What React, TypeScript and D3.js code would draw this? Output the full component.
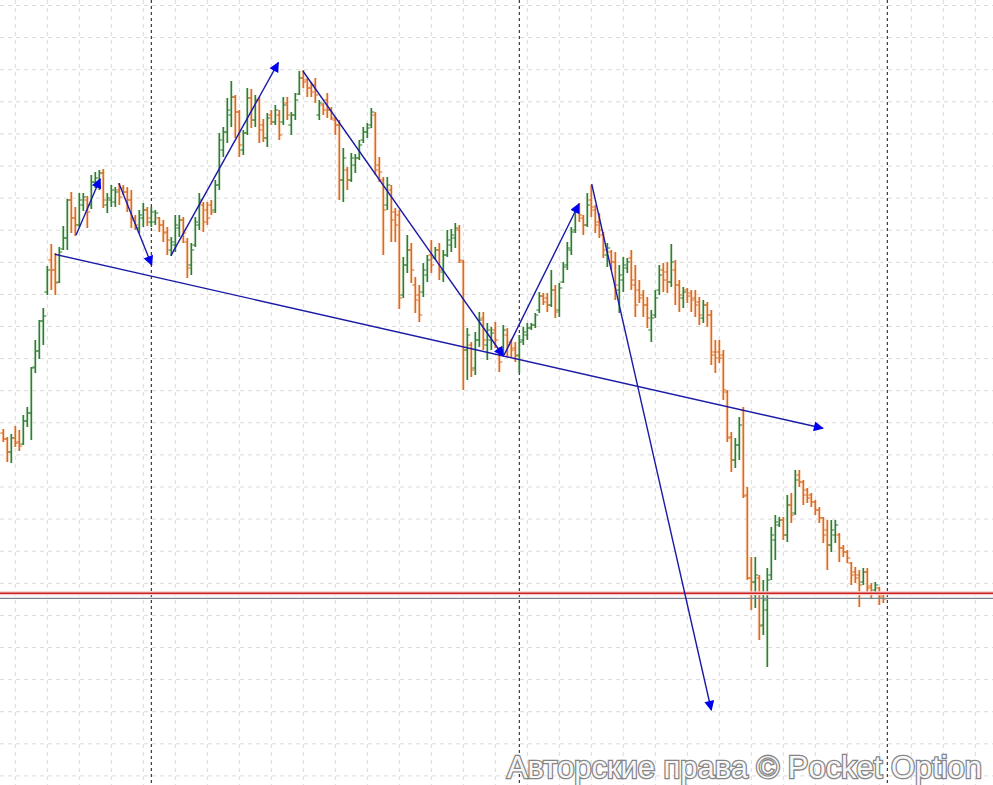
import React from "react";
import * as d3 from "d3";

// OHLC price bars (price points), one entry per bar, oldest first
const barOpen = [
  567,561,548,562,558,556,579,587,633,649,679,708,740,730,718,751,762,800,782,775,
  795,800,795,818,818,827,795,800,798,810,812,808,800,782,772,782,790,778,778,782,
  775,768,750,755,772,780,758,735,755,775,795,790,795,790,815,850,868,885,903,888,
  850,867,902,880,900,875,862,885,878,885,878,897,875,885,906,922,920,912,915,885,
  895,900,890,880,875,820,830,820,835,842,860,868,875,885,835,820,795,810,788,785,
  705,735,750,715,705,708,725,745,742,750,728,745,755,762,770,738,650,655,632,660,
  682,655,660,670,650,650,665,658,652,645,660,665,672,675,690,704,702,695,710,690,
  718,735,750,770,790,782,775,800,790,778,765,745,748,738,710,720,732,742,715,710,
  705,695,670,685,710,730,728,718,730,715,702,710,707,702,698,682,695,685,648,648,
  645,608,563,540,555,590,505,422,418,422,375,390,425,460,475,480,465,495,487,525,
  518,510,505,498,490,482,470,455,465,465,452,448,437,428,425,418,428,414,410,412,
  405,
];
const barHigh = [
  571,563,566,574,570,585,593,633,660,680,692,734,756,747,753,774,801,808,793,807,
  807,804,825,828,830,831,807,815,813,817,815,813,810,785,790,797,793,793,790,783,
  780,773,763,785,785,783,762,757,783,807,798,798,800,820,867,873,902,919,905,890,
  870,912,911,905,903,881,887,890,895,890,903,903,888,907,929,930,922,918,922,900,
  897,907,893,883,880,852,833,847,846,860,873,877,892,888,843,823,823,815,792,790,
  743,765,757,723,715,737,745,760,753,757,750,770,771,777,775,740,672,658,668,688,
  688,677,673,678,653,675,672,661,658,665,673,677,677,687,708,707,707,730,715,717,
  738,758,773,793,797,785,807,815,795,787,768,757,750,748,735,743,742,750,735,720,
  710,703,690,710,735,737,738,756,740,720,713,712,710,710,703,700,698,690,660,660,
  650,610,568,562,583,593,513,443,443,425,420,432,473,485,483,483,505,507,530,530,
  520,512,507,500,493,483,480,480,480,467,455,450,438,433,430,432,432,417,418,413,
  408,
];
const barLow = [
  558,538,537,553,549,555,573,560,627,641,655,705,710,705,717,750,750,767,764,773,
  789,772,791,812,810,792,787,793,793,795,805,788,772,770,767,773,774,773,775,768,
  758,745,744,748,763,757,722,725,753,770,768,775,785,787,810,843,857,873,862,843,
  845,865,872,873,857,858,853,875,875,860,875,880,865,880,905,912,903,903,897,880,
  885,882,880,865,800,798,810,818,827,840,857,862,872,825,818,745,790,758,758,691,
  702,727,717,687,678,703,718,727,740,720,718,743,748,752,737,610,620,623,625,653,
  650,640,650,652,628,645,643,643,638,627,655,660,670,672,687,695,688,693,682,683,
  717,730,745,767,778,765,773,783,767,762,742,733,730,700,687,708,727,710,683,697,
  683,672,658,682,705,708,707,713,695,688,692,697,688,683,675,677,673,635,627,637,
  600,558,528,532,540,502,420,390,392,360,365,333,420,440,473,460,458,477,485,513,
  495,497,493,485,477,457,430,448,457,438,443,437,415,417,393,415,407,402,408,395,
  397,
];
const barClose = [
  561,548,562,557,554,579,587,632,649,679,684,730,730,717,748,762,800,782,775,800,
  803,788,818,822,827,800,802,810,808,803,808,800,780,775,785,790,782,788,787,775,
  767,760,758,775,780,767,732,750,778,800,778,782,788,815,860,868,890,903,888,855,
  867,902,880,900,870,862,882,878,890,865,895,885,885,900,922,918,912,908,905,897,
  890,890,882,875,820,842,820,842,842,855,868,872,888,830,828,790,815,780,775,702,
  735,750,730,700,685,730,740,735,750,730,745,760,765,772,740,650,665,630,660,680,
  660,670,667,660,638,670,655,650,644,658,668,672,675,685,704,698,695,710,688,712,
  733,752,768,788,785,775,795,793,775,770,750,752,738,715,725,735,738,720,695,702,
  695,682,682,702,725,720,718,738,715,705,708,704,700,695,685,695,685,645,642,642,
  610,562,540,555,575,504,422,418,425,374,400,420,465,478,480,465,495,485,520,518,
  505,502,498,490,482,465,455,470,475,452,448,442,425,422,415,428,412,407,415,403,
  401,
];

// Session separators (bar index) and reference price levels
const sessionBreaks = [37, 129, 221];
const bidLevel = 406.7;
const askLevel = 401.7;

// Hand-drawn trend annotations: [startBar, startPrice, endBar, endPrice]
const trendArrows: [number, number, number, number][] = [
  [12.9, 745.7, 204.9, 571.7],
  [18.2, 765, 24.2, 821],
  [28.9, 816.7, 37.1, 735],
  [41.9, 744.3, 68.75, 937.3],
  [74.9, 929, 125.0, 644],
  [125.2, 645, 143.9, 796],
  [147.1, 816, 177.0, 290],
];

const watermark = "Авторские права © Pocket Option";

const W = 993;
const H = 785;
const UP = "#2f7f33";
const DOWN = "#e0691d";

export default function App() {
  const x = d3.scaleLinear().domain([0, 220]).range([3.3, 883.3]);
  const y = d3.scaleLinear().domain([215, 1000]).range([H, 0]);

  // grid: every 8 bars vertically, every 32.1 price points horizontally
  const vGrid = d3.range(3, 250, 8).filter((b) => x(b) < W);
  const hGrid = d3.range(0, 25).map((k) => 994.5 - 32.1 * k);

  const bars = barOpen.map((o, i) => ({
    i,
    o,
    h: barHigh[i],
    l: barLow[i],
    c: barClose[i],
  }));

  return (
    <svg
      width={W}
      height={H}
      style={{ position: "absolute", left: 0, top: 0, background: "#fff" }}
    >
      <defs>
        <marker
          id="arrowHead"
          viewBox="0 0 10 10"
          refX="9"
          refY="5"
          markerWidth="13"
          markerHeight="10"
          markerUnits="userSpaceOnUse"
          orient="auto"
        >
          <path d="M0,0 L10,5 L0,10 z" fill="#0000f0" />
        </marker>
      </defs>
      <rect width={W} height={H} fill="#fff" />

      <g stroke="#dadada" strokeWidth={1} strokeDasharray="4,4">
        {vGrid.map((b) => (
          <line key={"v" + b} x1={x(b)} x2={x(b)} y1={0} y2={H} />
        ))}
        {hGrid.map((p, k) => (
          <line key={"h" + k} x1={0} x2={W} y1={y(p)} y2={y(p)} />
        ))}
      </g>

      <g stroke="#111" strokeWidth={1} strokeDasharray="3,3">
        {sessionBreaks.map((b) => (
          <line key={b} x1={x(b)} x2={x(b)} y1={0} y2={H} />
        ))}
      </g>

      {/* soft halo behind the bars */}
      <g strokeWidth={3.6} opacity={0.5}>
        {bars.map((d) => (
          <line
            key={"g" + d.i}
            x1={x(d.i)}
            x2={x(d.i)}
            y1={y(d.h)}
            y2={y(d.l)}
            stroke={d.c >= d.o ? "#d9efd9" : "#fbdcc0"}
          />
        ))}
      </g>

      <g>
        {bars.map((d) => {
          const col = d.c >= d.o ? UP : DOWN;
          const cx = x(d.i);
          return (
            <g key={d.i} stroke={col}>
              <line x1={cx} x2={cx} y1={y(d.h)} y2={y(d.l)} strokeWidth={1.6} />
              <line x1={cx - 3} x2={cx} y1={y(d.o)} y2={y(d.o)} strokeWidth={1} />
              <line x1={cx} x2={cx + 3} y1={y(d.c)} y2={y(d.c)} strokeWidth={1} />
            </g>
          );
        })}
      </g>

      <line x1={0} x2={W} y1={y(bidLevel)} y2={y(bidLevel)} stroke="#f6caca" strokeWidth={4} />
      <line x1={0} x2={W} y1={y(bidLevel)} y2={y(bidLevel)} stroke="#cc2222" strokeWidth={1.4} />
      <line x1={0} x2={W} y1={y(askLevel)} y2={y(askLevel)} stroke="#7c8790" strokeWidth={1.2} />

      <g stroke="#1a1aa6" strokeWidth={1.4} fill="none">
        {trendArrows.map(([b0, p0, b1, p1], k) => (
          <line
            key={k}
            x1={x(b0)}
            y1={y(p0)}
            x2={x(b1)}
            y2={y(p1)}
            markerEnd="url(#arrowHead)"
          />
        ))}
      </g>

      <text
        x={507}
        y={778}
        fontFamily="'Liberation Sans', Arial, sans-serif"
        fontSize={31}
        textLength={475}
        lengthAdjust="spacingAndGlyphs"
        fill="#f7f7f7"
        stroke="#858585"
        strokeWidth={2.6}
        paintOrder="stroke"
      >
        {watermark}
      </text>
    </svg>
  );
}
